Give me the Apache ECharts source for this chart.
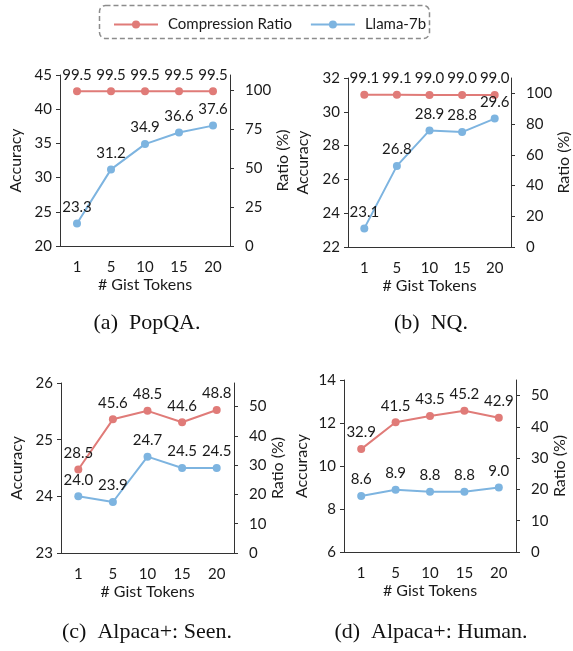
<!DOCTYPE html>
<html>
<head>
<meta charset="utf-8">
<script src="https://cdn.jsdelivr.net/npm/echarts@6/dist/echarts.min.js"></script>
<style>
  html, body { margin: 0; padding: 0; background: #fff; }
  #chart { width: 573px; height: 651px; }
</style>
</head>
<body>
<div id="chart"></div>
<script>
// x categories
const gistTokens = ['1', '5', '10', '15', '20'];

// (a) PopQA
const popqaRatio = [99.5, 99.5, 99.5, 99.5, 99.5];
const popqaAcc = [23.3, 31.2, 34.9, 36.6, 37.6];
// (b) NQ
const nqRatio = [99.1, 99.1, 99.0, 99.0, 99.0];
const nqAcc = [23.1, 26.8, 28.9, 28.8, 29.6];
// (c) Alpaca+: Seen
const seenRatio = [28.5, 45.6, 48.5, 44.6, 48.8];
const seenAcc = [24.0, 23.9, 24.7, 24.5, 24.5];
// (d) Alpaca+: Human
const humanRatio = [32.9, 41.5, 43.5, 45.2, 42.9];
const humanAcc = [8.6, 8.9, 8.8, 8.8, 9.0];

// right axis tick labels
const ratioTicksA = [0, 25, 50, 75, 100];
const ratioTicksB = [0, 20, 40, 60, 80, 100];
const ratioTicksCD = [0, 10, 20, 30, 40, 50];

const RED = '#e07b78';
const BLUE = '#7db4e0';
const FONT = 'Lato';
const TXT = '#1a1a1a';

const panels = [
  { caption: '(a)  PopQA.', ratio: popqaRatio, acc: popqaAcc,
    grid: { left: 60, top: 75, width: 170, height: 171 },
    acc_min: 20, acc_max: 45, acc_step: 5, ratio_max: 110, ratioTicks: ratioTicksA,
    capX: 147, capY: 323, accGap: 36, ratioGap: 29 },
  { caption: '(b)  NQ.', ratio: nqRatio, acc: nqAcc,
    grid: { left: 348, top: 78, width: 167, height: 169 },
    acc_min: 22, acc_max: 32, acc_step: 2, ratio_max: 110, ratioTicks: ratioTicksB,
    capX: 431, capY: 323, accGap: 37, ratioGap: 33 },
  { caption: '(c)  Alpaca+: Seen.', ratio: seenRatio, acc: seenAcc,
    grid: { left: 61, top: 383, width: 173, height: 170 },
    acc_min: 23, acc_max: 26, acc_step: 1, ratio_max: 58, ratioTicks: ratioTicksCD,
    capX: 147, capY: 632, accGap: 36, ratioGap: 34 },
  { caption: '(d)  Alpaca+: Human.', ratio: humanRatio, acc: humanAcc,
    grid: { left: 344, top: 380, width: 172, height: 172 },
    acc_min: 6, acc_max: 14, acc_step: 2, ratio_max: 55, ratioTicks: ratioTicksCD,
    capX: 431, capY: 632, accGap: 34, ratioGap: 36 }
];

const axisLine = { show: true, lineStyle: { color: '#333', width: 1 } };
const labelStyle = { color: TXT, fontFamily: FONT, fontSize: 15 };
const nameStyle = { color: TXT, fontFamily: FONT, fontSize: 16 };

const grids = [], xAxes = [], yAxes = [], series = [], graphics = [];

panels.forEach(function (p, i) {
  grids.push(p.grid);
  xAxes.push({
    type: 'category', gridIndex: i, data: gistTokens, boundaryGap: true,
    axisLine: axisLine, axisTick: { show: false },
    axisLabel: Object.assign({ margin: 14 }, labelStyle),
    name: '# Gist Tokens', nameLocation: 'middle', nameGap: 31,
    nameTextStyle: nameStyle
  });
  // left: accuracy
  yAxes.push({
    type: 'value', gridIndex: i, position: 'left',
    min: p.acc_min, max: p.acc_max, interval: p.acc_step,
    axisLine: axisLine, axisTick: { show: true, length: 4, lineStyle: { color: '#333' } },
    splitLine: { show: false },
    axisLabel: Object.assign({ margin: 8 }, labelStyle),
    name: 'Accuracy', nameLocation: 'middle', nameGap: p.accGap,
    nameTextStyle: nameStyle
  });
  // right: ratio
  yAxes.push({
    type: 'value', gridIndex: i, position: 'right',
    min: 0, max: p.ratio_max,
    axisLine: axisLine,
    axisTick: { show: true, length: 4, customValues: p.ratioTicks, lineStyle: { color: '#333' } },
    splitLine: { show: false },
    axisLabel: Object.assign({ margin: 15, customValues: p.ratioTicks }, labelStyle),
    name: 'Ratio (%)', nameLocation: 'middle', nameGap: p.ratioGap,
    nameTextStyle: nameStyle
  });
  const lbl = { show: true, position: 'top', distance: 5, color: TXT, fontFamily: FONT, fontSize: 15,
    formatter: function (d) { return d.value.toFixed(1); } };
  series.push({
    name: 'Compression Ratio', type: 'line', xAxisIndex: i, yAxisIndex: i * 2 + 1,
    data: p.ratio, symbol: 'circle', symbolSize: 8,
    itemStyle: { color: RED }, lineStyle: { color: RED, width: 2 }, label: lbl
  });
  series.push({
    name: 'Llama-7b', type: 'line', xAxisIndex: i, yAxisIndex: i * 2,
    data: p.acc, symbol: 'circle', symbolSize: 8,
    itemStyle: { color: BLUE }, lineStyle: { color: BLUE, width: 2 }, label: lbl
  });
  graphics.push({
    type: 'text', x: p.capX, y: p.capY,
    style: { text: p.caption, textAlign: 'center', textVerticalAlign: 'middle',
      font: '22px "Liberation Serif"', fill: '#111' }
  });
});

// dashed legend frame
graphics.push({
  type: 'rect', shape: { x: 99.5, y: 5.5, width: 330, height: 33, r: 6 },
  style: { fill: 'none', stroke: '#8c8c8c', lineWidth: 1.5, lineDash: [5, 3] }
});

const chart = echarts.init(document.getElementById('chart'));
chart.setOption({
  animation: false,
  legend: {
    data: ['Compression Ratio', 'Llama-7b'],
    left: 108, top: 12, padding: 5,
    itemWidth: 44, itemHeight: 10, itemGap: 18,
    textStyle: { color: TXT, fontFamily: FONT, fontSize: 15, padding: [0, 0, 0, 5] }
  },
  grid: grids,
  xAxis: xAxes,
  yAxis: yAxes,
  series: series,
  graphic: graphics
});
</script>
</body>
</html>
